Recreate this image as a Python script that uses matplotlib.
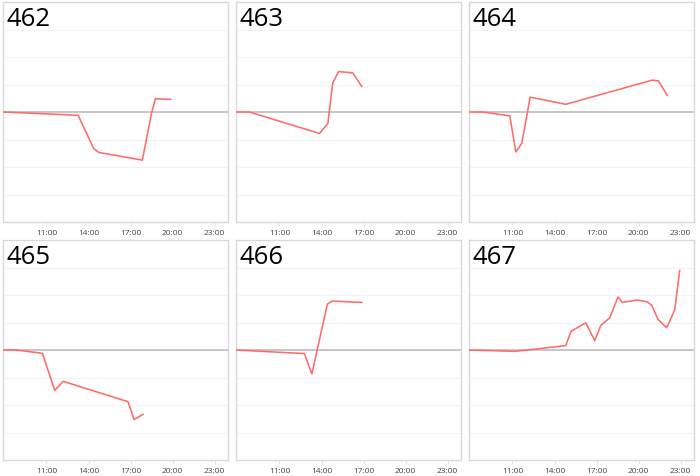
import matplotlib
matplotlib.use("Agg")
import matplotlib.pyplot as plt

titles = ["462", "463", "464", "465", "466", "467"]

hours_462 = [7.91, 13.26, 14.37, 14.73, 17.84, 18.49, 18.77, 19.86]
vals_462 = [0.0, -0.12, -1.33, -1.47, -1.75, -0.06, 0.48, 0.46]

hours_463 = [7.91, 8.86, 13.85, 14.45, 14.80, 15.23, 16.23, 16.87]
vals_463 = [0.0, 0.0, -0.78, -0.42, 1.06, 1.47, 1.42, 0.93]

hours_464 = [7.95, 8.86, 10.81, 11.24, 11.67, 12.26, 14.80, 20.98, 21.41, 22.05]
vals_464 = [0.0, 0.0, -0.14, -1.45, -1.14, 0.54, 0.28, 1.16, 1.13, 0.60]

hours_465 = [7.91, 8.86, 10.71, 11.59, 12.19, 16.82, 17.25, 17.89]
vals_465 = [0.0, 0.0, -0.12, -1.47, -1.14, -1.88, -2.53, -2.34]

hours_466 = [7.91, 12.78, 13.31, 14.42, 14.75, 16.87]
vals_466 = [0.0, -0.13, -0.87, 1.67, 1.78, 1.73]

hours_467 = [7.91, 11.19, 14.80, 15.18, 16.23, 16.87, 17.30, 17.94, 18.53, 18.84,
             19.91, 20.62, 20.93, 21.39, 22.00, 22.57, 22.93]
vals_467 = [0.0, -0.05, 0.16, 0.68, 0.99, 0.34, 0.89, 1.17, 1.93, 1.73,
            1.82, 1.75, 1.63, 1.11, 0.81, 1.45, 2.89]

tick_hours = [11, 14, 17, 20, 23]
tick_labels = ["11:00", "14:00", "17:00", "20:00", "23:00"]

series = [(hours_462, vals_462), (hours_463, vals_463), (hours_464, vals_464),
          (hours_465, vals_465), (hours_466, vals_466), (hours_467, vals_467)]

W, H = 700, 477
fig = plt.figure(figsize=(W / 100, H / 100), dpi=100)
fig.patch.set_facecolor("white")

col_x = [3, 236, 469]
row_y = [3, 241]
pw, ph = 225, 220

for i, (title, (hx, vy)) in enumerate(zip(titles, series)):
    r, c = divmod(i, 3)
    left = col_x[c] / W
    bottom = 1 - (row_y[r] + ph) / H
    ax = fig.add_axes([left, bottom, pw / W, ph / H])
    ax.set_xlim(7.9, 23.95)
    ax.set_ylim(-4, 4)
    for g in [-3, -2, -1, 1, 2, 3]:
        ax.axhline(g, color="#f3f3f3", lw=0.8, zorder=1)
    ax.axhline(0, color="#c2c2c2", lw=1.3, zorder=2)
    ax.plot(hx, vy, color="#ff6b6b", lw=1.15, zorder=3)
    ax.set_yticks([])
    ax.set_xticks(tick_hours)
    ax.set_xticklabels(tick_labels, fontsize=6, color="#444444", family="Open Sans")
    ax.tick_params(axis="x", length=3, width=0.6, color="#e0e0e0", pad=2)
    for s in ax.spines.values():
        s.set_color("#d9d9d9")
        s.set_linewidth(1.0)
    ax.text(0.016, 0.98, title, transform=ax.transAxes, ha="left", va="top",
            fontsize=18.5, family="Open Sans", color="black")

fig.savefig("out.png", dpi=100, facecolor="white")
